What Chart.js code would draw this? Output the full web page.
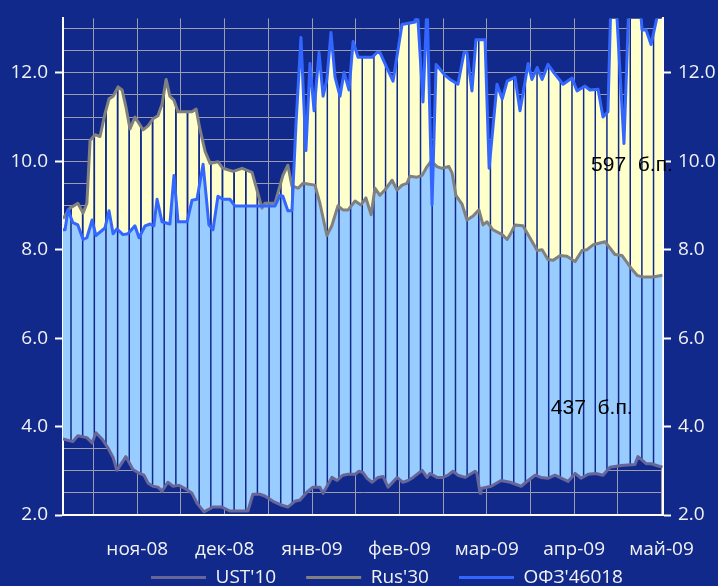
<!DOCTYPE html>
<html>
<head>
<meta charset="utf-8">
<script src="https://cdn.jsdelivr.net/npm/chart.js@4"></script>
<style>
  html, body { margin: 0; padding: 0; background: #10298b; }
  canvas { display: block; background: #10298b; }
</style>
</head>
<body>
<canvas id="c" width="718" height="586"></canvas>
<script>
// x = days, 30-day months, gridlines every 15 days
const gridDays = [15, 30, 45, 60, 75, 90, 105, 120, 135, 150, 165, 180, 195, 210];
const monthDays = [30, 60, 90, 120, 150, 180, 210];
const monthLabels = ["ноя-08", "дек-08", "янв-09", "фев-09", "мар-09", "апр-09", "май-09"];
const yTicks = [2.0, 2.5, 3.0, 3.5, 4.0, 4.5, 5.0, 5.5, 6.0, 6.5, 7.0, 7.5, 8.0, 8.5, 9.0, 9.5, 10.0, 10.5, 11.0, 11.5, 12.0, 12.5, 13.0];

const ustDays = [4.5,7.9,9.6,12.7,14.5,15.8,17.9,19.9,21.7,23.0,26.1,28.5,30.2,32.3,33.7,35.4,37.1,38.5,40.5,42.3,44.3,46.4,48.8,50.5,52.9,56.0,59.1,61.8,68.0,69.7,72.1,73.8,76.6,79.7,81.7,84.1,85.9,88.3,90.3,92.7,93.8,96.8,98.6,100.6,102.4,104.8,106.1,107.5,108.9,110.6,112.7,114.4,116.1,119.2,121.2,123.0,124.7,127.8,129.5,130.5,132.9,135.0,136.7,138.4,140.1,142.5,146.0,146.6,147.7,148.0,151.5,154.9,158.0,161.8,164.2,166.6,168.6,171.0,173.4,177.9,180.3,182.4,184.8,187.5,189.9,192.3,196.1,200.9,201.9,204.7,206.4,210.3];
const ustYield = [3.72,3.66,3.79,3.75,3.63,3.86,3.72,3.52,3.30,3.01,3.32,3.03,2.96,2.90,2.72,2.65,2.63,2.54,2.74,2.65,2.67,2.60,2.49,2.27,2.07,2.18,2.18,2.09,2.09,2.47,2.47,2.43,2.31,2.22,2.18,2.31,2.34,2.52,2.63,2.63,2.49,2.85,2.78,2.90,2.92,2.92,2.99,2.96,2.83,2.74,2.85,2.87,2.63,2.85,2.74,2.78,2.85,3.01,2.85,2.94,2.85,2.85,2.90,2.99,2.90,2.85,2.99,2.94,2.49,2.60,2.65,2.78,2.74,2.65,2.78,2.90,2.85,2.83,2.90,2.76,2.94,2.83,2.92,2.94,2.90,3.08,3.12,3.14,3.32,3.16,3.16,3.08];

const rusDays = [4.5,6.9,9.6,11.4,12.7,13.8,15.5,17.2,18.9,20.3,21.7,23.4,24.8,26.1,27.5,29.2,32.0,33.7,35.4,37.1,38.5,39.9,41.2,42.6,44.0,48.8,50.2,51.5,53.3,55.0,57.7,59.4,62.9,66.0,69.4,71.1,72.8,73.8,77.3,80.0,81.7,83.1,85.2,86.9,91.0,92.7,95.1,96.8,98.9,100.6,102.4,104.8,106.8,108.5,110.3,111.6,113.3,115.0,117.5,119.2,120.9,122.6,123.6,126.0,127.8,129.5,130.9,132.9,134.6,137.0,138.1,139.4,141.5,143.2,145.3,147.3,148.7,150.1,152.1,155.3,157.0,158.0,159.7,162.4,164.8,167.3,169.0,171.0,172.8,175.2,177.5,180.3,182.7,184.4,186.5,190.6,194.0,196.4,199.9,201.6,203.6,207.1,210.3];
const rusYield = [8.70,8.94,9.05,8.83,9.05,10.47,10.60,10.56,11.07,11.41,11.47,11.68,11.61,11.23,10.73,11.00,10.71,10.80,10.96,11.03,11.29,11.85,11.47,11.38,11.12,11.12,11.18,10.73,10.22,9.95,9.99,9.84,9.77,9.84,9.75,9.35,8.94,9.05,9.05,9.68,9.91,9.44,9.39,9.50,9.46,9.05,8.32,8.54,8.99,8.90,8.90,9.10,9.01,9.17,8.79,9.39,9.23,9.35,9.57,9.35,9.46,9.50,9.66,9.64,9.68,9.88,10.00,9.88,9.84,9.88,9.73,9.23,9.03,8.67,8.76,8.90,8.56,8.63,8.45,8.34,8.23,8.34,8.56,8.54,8.27,7.98,8.00,7.78,7.76,7.87,7.85,7.73,7.98,8.00,8.11,8.18,7.89,7.87,7.55,7.42,7.38,7.38,7.42];

const ofzDays = [4.5,5.2,6.2,7.9,9.6,11.4,12.7,14.5,15.8,18.9,20.3,21.7,23.0,25.1,26.8,29.2,30.6,32.7,34.4,35.7,36.8,38.5,41.2,42.6,44.0,47.1,48.8,50.5,52.6,54.6,56.0,57.7,59.4,61.8,63.5,77.3,79.0,80.0,81.7,83.1,84.5,86.2,87.9,89.3,90.7,92.4,93.8,95.1,96.5,97.9,99.6,101.0,102.7,104.1,105.8,110.6,112.3,113.3,117.8,120.9,125.4,126.0,128.1,129.5,131.2,132.6,135.7,137.4,140.1,142.2,143.2,144.9,146.3,149.4,150.8,153.5,155.3,157.0,159.7,161.4,164.2,165.5,167.3,169.0,171.0,173.4,176.2,179.3,181.0,183.7,185.4,188.2,189.9,191.6,192.6,194.4,197.1,198.8,202.6,203.3,204.7,206.4,208.1,209.5,210.3];
const ofzYield = [8.45,8.45,8.90,8.61,8.56,8.23,8.27,8.67,8.32,8.49,8.88,8.36,8.47,8.34,8.36,8.54,8.27,8.54,8.58,8.54,9.14,8.63,8.58,9.68,8.63,8.63,9.12,9.14,9.93,8.56,8.45,9.21,9.14,9.14,8.99,8.99,9.23,9.21,8.88,8.88,10.85,12.80,10.24,12.21,11.14,12.46,11.47,11.85,12.91,11.90,11.47,12.01,11.61,12.71,12.35,12.35,12.46,12.46,11.81,13.09,13.15,13.6,11.34,13.6,9.01,12.19,11.94,11.85,11.74,12.46,12.46,11.59,12.75,12.75,9.84,11.74,11.41,11.81,11.90,11.14,12.21,11.85,12.12,11.85,12.19,11.97,11.74,11.88,11.59,11.70,11.61,11.63,11.00,11.12,13.6,13.6,10.40,13.6,13.6,12.97,12.97,12.64,13.15,13.6,13.6];

const noteTexts = ["597  б.п.", "437  б.п."];
const noteDays = [185.8, 172.0];
const noteValues = [9.79, 4.28];

const navy = "#10298b";
const gridGray = "#9c9cb0";
const textColor = "#f2f2f2";

const pts = (xs, ys) => xs.map((d, i) => ({ x: d, y: ys[i] }));

Chart.defaults.font.family = "'Open Sans', sans-serif";
Chart.defaults.font.size = 19;
Chart.defaults.color = textColor;

const extras = {
  id: "extras",
  // legend sits a bit right of centre and lower in the original
  afterLayout(chart) {
    const lg = chart.legend;
    lg.left += 28;
    lg.right += 28;
    lg.top -= 28;
  },
  // thin navy gaps across the filled bands
  beforeDatasetsDraw(chart) {
    const { ctx, chartArea: a, scales: { x } } = chart;
    const line = i => chart.getDatasetMeta(i).data.map(p => [p.x, p.y]);
    const ust = line(0), rus = line(1), ofz = line(2);
    const bands = [ust.concat(rus.slice().reverse()), rus.concat(ofz.slice().reverse())];
    bands.forEach(poly => {
      ctx.save();
      ctx.beginPath();
      ctx.rect(a.left, a.top, a.right - a.left, a.bottom - a.top);
      ctx.clip();
      ctx.beginPath();
      poly.forEach(([px, py], k) => k ? ctx.lineTo(px, py) : ctx.moveTo(px, py));
      ctx.closePath();
      ctx.clip();
      ctx.strokeStyle = navy;
      ctx.lineWidth = 1.5;
      ctx.beginPath();
      for (let d = 7.25; d < x.max; d += 4) {
        const px = x.getPixelForValue(d);
        ctx.moveTo(px, a.top);
        ctx.lineTo(px, a.bottom);
      }
      ctx.stroke();
      ctx.restore();
    });
  },
  afterDatasetsDraw(chart) {
    const { ctx, scales: { x, y } } = chart;
    ctx.save();
    ctx.fillStyle = "#000";
    ctx.font = "21px 'Liberation Sans', Arial, sans-serif";
    ctx.textBaseline = "alphabetic";
    noteTexts.forEach((t, i) => {
      ctx.fillText(t, x.getPixelForValue(noteDays[i]), y.getPixelForValue(noteValues[i]));
    });
    ctx.restore();
  }
};

const yAxis = (pos, onChart) => ({
  type: "linear",
  position: pos,
  min: 2,
  max: 13.23,
  afterBuildTicks: s => { s.ticks = yTicks.map(v => ({ value: v })); },
  afterFit: s => { s.width = pos === "left" ? 63 : 55; },
  grid: {
    drawOnChartArea: onChart,
    color: gridGray,
    lineWidth: 1,
    tickLength: 8,
    tickWidth: 2,
    tickColor: c => (c.tick && c.tick.value % 2 === 0) ? "#ffffff" : "rgba(0,0,0,0)"
  },
  border: { display: true, color: "#ffffff", width: 2 },
  ticks: {
    autoSkip: false,
    padding: 7,
    color: textColor,
    callback: v => v % 2 === 0 ? v.toFixed(1) : ""
  }
});

new Chart(document.getElementById("c"), {
  type: "line",
  data: {
    datasets: [
      {
        label: "UST'10",
        data: pts(ustDays, ustYield),
        borderColor: "#666699",
        borderWidth: 3,
        fill: false,
        order: 2
      },
      {
        label: "Rus'30",
        data: pts(rusDays, rusYield),
        borderColor: "#808080",
        backgroundColor: "#99ccff",
        borderWidth: 3,
        fill: 0,
        order: 1
      },
      {
        label: "ОФЗ'46018",
        data: pts(ofzDays, ofzYield),
        borderColor: "#3366ff",
        backgroundColor: "#ffffcc",
        borderWidth: 3,
        fill: 1,
        order: 0
      }
    ]
  },
  options: {
    responsive: false,
    animation: false,
    devicePixelRatio: 1,
    layout: { padding: { left: 0, right: 0, top: 15, bottom: 0 } },
    elements: {
      point: { radius: 0, hoverRadius: 0 },
      line: { tension: 0, borderJoinStyle: "round" }
    },
    scales: {
      x: {
        type: "linear",
        min: 4.5,
        max: 210.5,
        afterBuildTicks: s => { s.ticks = gridDays.map(v => ({ value: v })); },
        afterFit: s => { s.height = 51; },
        grid: { color: gridGray, lineWidth: 1, drawTicks: false },
        border: { display: true, color: "#ffffff", width: 2 },
        ticks: {
          autoSkip: false,
          maxRotation: 0,
          padding: 23,
          color: textColor,
          callback: v => {
            const i = monthDays.indexOf(v);
            return i >= 0 ? monthLabels[i] : "";
          }
        }
      },
      y: yAxis("left", true),
      y2: yAxis("right", false)
    },
    plugins: {
      filler: { drawTime: "beforeDatasetsDraw" },
      tooltip: { enabled: false },
      legend: {
        position: "bottom",
        maxHeight: 20,
        labels: {
          usePointStyle: true,
          pointStyle: "line",
          pointStyleWidth: 55,
          padding: 30,
          color: textColor,
          font: { size: 19 },
          sort: (a, b) => a.datasetIndex - b.datasetIndex
        }
      }
    }
  },
  plugins: [extras]
});
</script>
</body>
</html>
